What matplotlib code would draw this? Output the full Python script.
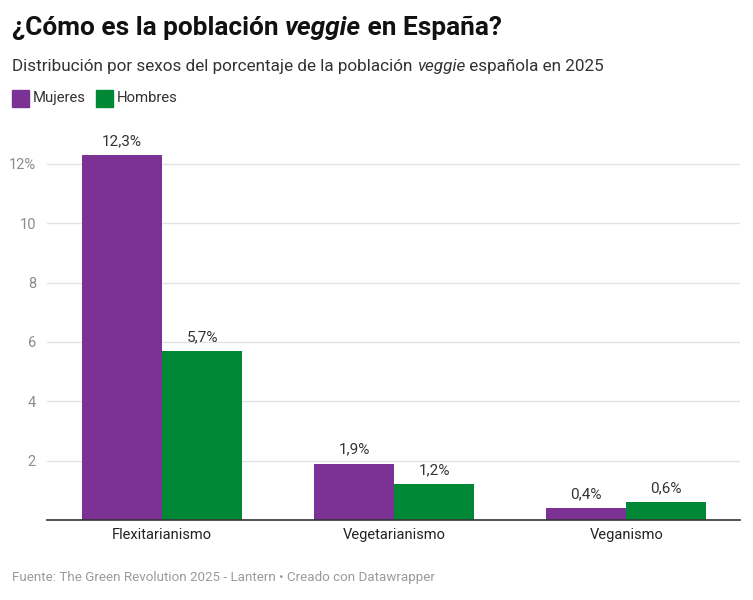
import matplotlib
matplotlib.use("Agg")
from matplotlib import pyplot as plt
from matplotlib.patches import Rectangle
import numpy as np

# datos
categorias = ["Flexitarianismo", "Vegetarianismo", "Veganismo"]
mujeres = [12.3, 1.9, 0.4]
hombres = [5.7, 1.2, 0.6]
series = ["Mujeres", "Hombres"]
yticks = [2, 4, 6, 8, 10, 12]

morado = "#7b3294"
verde = "#008837"
gris = "#8c8c8c"

plt.rcParams["font.family"] = ["Roboto", "DejaVu Sans"]

fig = plt.figure(figsize=(7.53, 6.0), dpi=100)
ax = fig.add_axes([0.0624, 0.1333, 0.9206, 0.6182])

x = np.arange(len(categorias))
w = 0.345
b1 = ax.bar(x - w / 2, mujeres, width=w, color=morado, zorder=3)
b2 = ax.bar(x + w / 2, hombres, width=w, color=verde, zorder=3)

for barras, vals in ((b1, mujeres), (b2, hombres)):
    for r, v in zip(barras, vals):
        ax.annotate(("%.1f%%" % v).replace(".", ","),
                    (r.get_x() + r.get_width() / 2, v),
                    xytext=(0, 5), textcoords="offset points",
                    ha="center", va="bottom", fontsize=11, color="#333333")

ax.set_xlim(-0.496, 2.491)
ax.set_ylim(0, 12.5)
ax.set_yticks(yticks)
ax.set_yticklabels([str(t) + ("%" if t == 12 else "") for t in yticks],
                   fontsize=10.5, color=gris)
ax.set_xticks(x)
ax.set_xticklabels(categorias, fontsize=10.5, color="#222222")
ax.tick_params(axis="y", length=0, pad=8)
ax.tick_params(axis="x", length=0, pad=6)
ax.grid(axis="y", color="#e3e3e3", linewidth=1, zorder=0)
for s in ("top", "right", "left"):
    ax.spines[s].set_visible(False)
ax.spines["bottom"].set_color("#333333")
ax.spines["bottom"].set_linewidth(1.2)
ax.spines["bottom"].set_zorder(4)

fig.canvas.draw()
r = fig.canvas.get_renderer()

# titulo y subtitulo (con la palabra veggie en cursiva)
t1 = fig.text(0.016, 0.953, "¿Cómo es la población ", fontsize=18.9, fontweight="bold",
              va="center", ha="left", color="#111111")
bb = t1.get_window_extent(r)
t2 = fig.text(bb.x1 / fig.bbox.width, 0.953, "veggie", fontsize=18.9, fontweight="bold",
              style="italic", va="center", ha="left", color="#111111")
bb = t2.get_window_extent(r)
fig.text(bb.x1 / fig.bbox.width, 0.953, " en España?", fontsize=18.9, fontweight="bold",
         va="center", ha="left", color="#111111")

s1 = fig.text(0.016, 0.89, "Distribución por sexos del porcentaje de la población ",
              fontsize=12.3, va="center", ha="left", color="#333333")
bb = s1.get_window_extent(r)
s2 = fig.text(bb.x1 / fig.bbox.width, 0.89, "veggie", fontsize=12.3, style="italic",
              va="center", ha="left", color="#333333")
bb = s2.get_window_extent(r)
fig.text(bb.x1 / fig.bbox.width, 0.89, " española en 2025", fontsize=12.3,
         va="center", ha="left", color="#333333")

# leyenda
lx = 12
for nombre, col in zip(series, (morado, verde)):
    fig.patches.append(Rectangle((lx / 753, 1 - 107 / 600), 17 / 753, 17 / 600,
                                 transform=fig.transFigure, color=col, figure=fig))
    tl = fig.text((lx + 21) / 753, 1 - 98 / 600, nombre, fontsize=10.7,
                  va="center", ha="left", color="#333333")
    bb = tl.get_window_extent(r)
    lx = bb.x1 + 10

# fuente
fig.text(0.016, 1 - 578 / 600,
         "Fuente: The Green Revolution 2025 - Lantern \u2022 Creado con Datawrapper",
         fontsize=9.6, va="center", ha="left", color="#9a9a9a")

fig.savefig("out.png", dpi=100)
